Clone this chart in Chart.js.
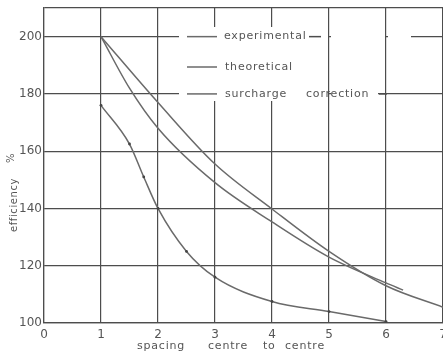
<!DOCTYPE html>
<html>
<head>
<meta charset="utf-8">
<script src="https://cdn.jsdelivr.net/npm/chart.js@4/dist/chart.umd.min.js"></script>
<style>
  html, body { margin: 0; padding: 0; background: #fff; overflow: hidden; }
  #wrap { width: 443px; height: 354px; position: relative; }
</style>
</head>
<body>
<div id="wrap"><canvas id="chart"></canvas></div>
<script>
// curve values (x = spacing centre to centre, y = efficiency %)
var upperX = [1, 2, 3, 4, 5, 6, 7];
var upperY = [200, 177, 155.5, 139.8, 125, 113, 105.5];

var middleX = [1, 1.5, 2, 3, 4, 5, 6, 6.3];
var middleY = [200, 182, 168, 149, 135.3, 123, 114, 111.5];

var lowerX = [1, 1.5, 1.75, 2, 2.5, 3, 4, 5, 6];
var lowerY = [176, 162.5, 151, 140, 125, 116, 107.5, 104, 100.5];

var legendLabels = ['experimental', 'theoretical', 'surcharge', 'correction'];
var xTitleWords = ['spacing', 'centre', 'to', 'centre'];
var yTitle = 'efficiency';

function pts(xs, ys) {
  return xs.map(function (x, i) { return { x: x, y: ys[i] }; });
}

var ink = '#555';
var gridCol = '#4d4d4d';
var lineCol = '#6a6a6a';

// legend + axis titles drawn straight onto the canvas
var extras = {
  id: 'extras',
  beforeDraw: function (chart) {
    var c = chart.ctx;
    c.save();
    c.fillStyle = '#fff';
    c.fillRect(0, 0, chart.width, chart.height);
    c.restore();
  },
  beforeDatasetsDraw: function (chart) {
    var c = chart.ctx;
    var ys = chart.scales.y;
    var r1 = ys.getPixelForValue(200);
    var r2 = 67;
    var r3 = ys.getPixelForValue(180);
    c.save();
    // blank out the grid behind the legend (keeping the x = 5 and 6 lines)
    c.fillStyle = '#fff';
    c.fillRect(179, 27, 144, 74);
    c.fillRect(323, r1 - 3, 5, 6);
    c.fillRect(331, r1 - 3, 54, 6);
    c.fillRect(388, r1 - 3, 23, 6);
    c.fillRect(323, r3 - 3, 5, 6);
    c.fillRect(331, r3 - 3, 47, 6);
    // line samples
    c.strokeStyle = lineCol;
    c.lineWidth = 1.5;
    [r1, r2, r3].forEach(function (y) {
      c.beginPath();
      c.moveTo(187, y);
      c.lineTo(217, y);
      c.stroke();
    });
    c.strokeStyle = gridCol;
    c.beginPath(); c.moveTo(309, r1); c.lineTo(321, r1); c.stroke();
    c.beginPath(); c.moveTo(379, r3); c.lineTo(387, r3); c.stroke();
    // legend text
    c.fillStyle = ink;
    c.font = '11px "DejaVu Sans"';
    c.letterSpacing = '0.8px';
    c.textBaseline = 'middle';
    c.textAlign = 'left';
    c.fillText(legendLabels[0], 224, r1);
    c.fillText(legendLabels[1], 225, r2);
    c.fillText(legendLabels[2], 225, r3);
    c.fillText(legendLabels[3], 306, r3);
    // x title
    c.fillText(xTitleWords[0], 137, 346);
    c.fillText(xTitleWords[1], 208, 346);
    c.fillText(xTitleWords[2], 263, 346);
    c.fillText(xTitleWords[3], 285, 346);
    // y title
    c.font = '10px "DejaVu Sans"';
    c.letterSpacing = '0.6px';
    c.textAlign = 'center';
    c.save();
    c.translate(14, 205);
    c.rotate(-Math.PI / 2);
    c.fillText(yTitle, 0, 0);
    c.restore();
    c.save();
    c.translate(11, 158);
    c.rotate(-Math.PI / 2);
    c.fillText('%', 0, 0);
    c.restore();
    c.restore();
  }
};

var ctx = document.getElementById('chart').getContext('2d');
var myChart = new Chart(ctx, {
  type: 'line',
  data: {
    datasets: [
      { label: 'upper', data: pts(upperX, upperY), pointRadius: 0,
        borderColor: lineCol, borderWidth: 1.5 },
      { label: 'middle', data: pts(middleX, middleY), pointRadius: 0,
        borderColor: lineCol, borderWidth: 1.5 },
      { label: 'lower', data: pts(lowerX, lowerY), pointRadius: 1.4,
        borderColor: lineCol, borderWidth: 1.5,
        pointBackgroundColor: '#444', pointBorderColor: '#444', pointBorderWidth: 0 }
    ]
  },
  options: {
    responsive: true,
    maintainAspectRatio: false,
    animation: false,
    datasets: {
      line: { cubicInterpolationMode: 'monotone', fill: false }
    },
    layout: { autoPadding: false, padding: { top: 8, left: 0, right: 0, bottom: 0 } },
    plugins: {
      legend: { display: false },
      tooltip: { enabled: false }
    },
    scales: {
      x: {
        type: 'linear',
        min: 0,
        max: 7,
        ticks: {
          stepSize: 1,
          padding: 5,
          color: ink,
          font: { family: 'DejaVu Sans', size: 12 },
          maxRotation: 0
        },
        grid: { color: gridCol, lineWidth: 1.2, drawTicks: false },
        border: { color: gridCol, width: 1.2 },
        afterFit: function (scale) {
          scale.height = 31;
          scale.paddingLeft = 0;
          scale.paddingRight = 0;
        }
      },
      y: {
        min: 100,
        max: 210,
        ticks: {
          stepSize: 20,
          padding: 2,
          color: ink,
          font: { family: 'DejaVu Sans', size: 12 },
          callback: function (value) {
            return value % 20 === 0 ? value : '';
          }
        },
        grid: { color: gridCol, lineWidth: 1.2, drawTicks: false },
        border: { color: gridCol, width: 1.2 },
        afterFit: function (scale) {
          scale.width = 44;
          scale.paddingTop = 0;
          scale.paddingBottom = 0;
        }
      }
    }
  },
  plugins: [extras]
});
</script>
</body>
</html>
